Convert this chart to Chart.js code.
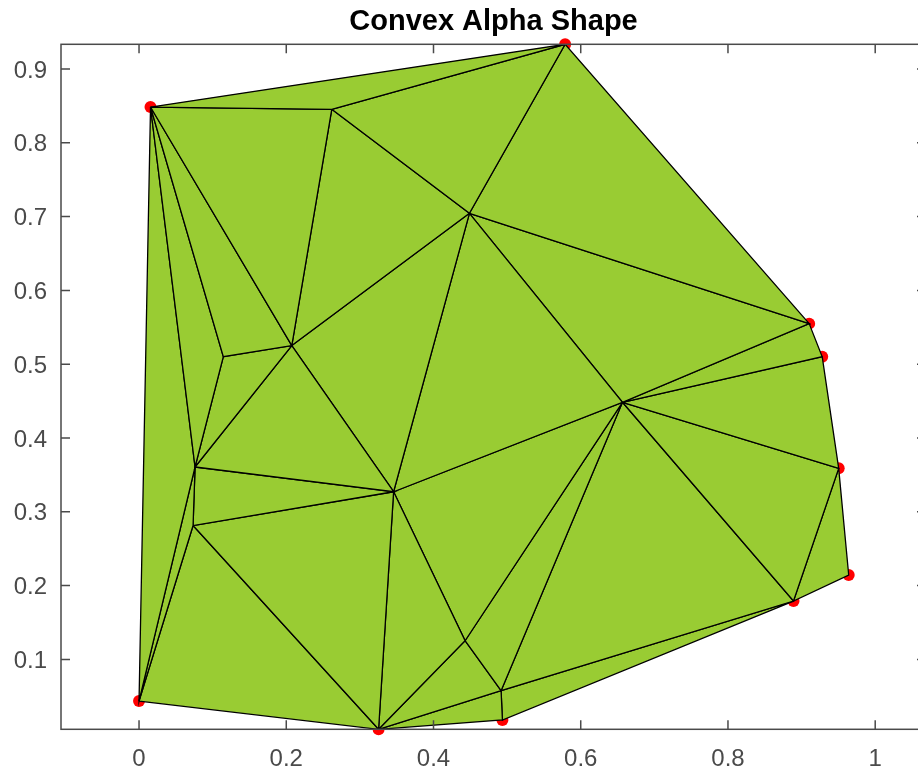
<!DOCTYPE html>
<html>
<head>
<meta charset="utf-8">
<script src="https://cdn.jsdelivr.net/npm/chart.js@4.4.1/dist/chart.umd.min.js"></script>
<style>
  html, body { margin: 0; padding: 0; background: #fff; overflow: hidden; }
  #shape_canvas { display: block; }
</style>
</head>
<body>
<canvas id="shape_canvas" width="940" height="774"></canvas>
<script>
// point coordinates
const ptX = [0.0156, 0.5788, 0.9103, 0.928, 0.9504, 0.964, 0.889, 0.4936, 0.3254, 0.0,
             0.2618, 0.4488, 0.2075, 0.1145, 0.0761, 0.0734, 0.3458, 0.6567, 0.4429, 0.4918];
const ptY = [0.8485, 0.9335, 0.555, 0.5102, 0.3589, 0.2144, 0.1791, 0.0179, 0.0053, 0.0436,
             0.8454, 0.7045, 0.5253, 0.5102, 0.3607, 0.2814, 0.3272, 0.4484, 0.1253, 0.0576];

// triangles of the alpha shape (indexes into ptX / ptY)
const tris = [
  [0, 1, 10], [10, 1, 11], [1, 2, 11], [0, 10, 12], [10, 11, 12], [0, 12, 13],
  [0, 13, 14], [13, 12, 14], [0, 14, 9], [9, 14, 15], [14, 12, 16], [12, 11, 16],
  [11, 17, 16], [11, 2, 17], [2, 3, 17], [3, 4, 17], [17, 4, 6], [4, 5, 6],
  [14, 16, 15], [15, 16, 8], [9, 15, 8], [16, 18, 8], [16, 17, 18], [18, 17, 19],
  [17, 6, 19], [18, 19, 8], [8, 19, 7], [19, 6, 7]
];

const xTicks = [0, 0.2, 0.4, 0.6, 0.8, 1];
const yTicks = [0.1, 0.2, 0.3, 0.4, 0.5, 0.6, 0.7, 0.8, 0.9];
const xLimits = [-0.106, 1.069];
const yLimits = [0.0053, 0.9335];

const tick_font = { family: "'Liberation Sans', Arial, Helvetica, sans-serif", size: 24 };
const axis_color = "#4a4a4a";

let datasets = [];

// one filled dataset per triangle, edges in black
for (const t of tris) {
  const idx = [t[0], t[1], t[2], t[0]];
  datasets.push({
    data: idx.map(i => ({ x: ptX[i], y: ptY[i] })),
    showLine: true,
    fill: "shape",
    backgroundColor: "#99cc33",
    borderColor: "#000000",
    borderWidth: 1.3,
    pointRadius: 0,
    tension: 0
  });
}

// red points, last so they are drawn first (under the shape)
datasets.push({
  data: ptX.map((x, i) => ({ x: x, y: ptY[i] })),
  showLine: false,
  pointRadius: 6,
  pointBorderWidth: 0,
  pointBackgroundColor: "#ff0000",
  clip: false
});

// box around the axes with ticks pointing inward
const axes_box = {
  id: "axes_box",
  afterDatasetsDraw(chart) {
    const { ctx, chartArea: a, scales } = chart;
    const len = 9;
    ctx.save();
    ctx.strokeStyle = axis_color;
    ctx.lineWidth = 1.5;
    ctx.strokeRect(a.left, a.top, a.right - a.left, a.bottom - a.top);
    ctx.beginPath();
    for (const v of xTicks) {
      const px = scales.x.getPixelForValue(v);
      ctx.moveTo(px, a.bottom); ctx.lineTo(px, a.bottom - len);
      ctx.moveTo(px, a.top); ctx.lineTo(px, a.top + len);
    }
    for (const v of yTicks) {
      const py = scales.y.getPixelForValue(v);
      ctx.moveTo(a.left, py); ctx.lineTo(a.left + len, py);
      ctx.moveTo(a.right, py); ctx.lineTo(a.right - len, py);
    }
    ctx.stroke();
    ctx.restore();
  }
};

new Chart(document.getElementById("shape_canvas"), {
  type: "scatter",
  data: { datasets: datasets },
  options: {
    responsive: false,
    devicePixelRatio: 1,
    animation: false,
    layout: { padding: { left: 0, right: 14, top: 0, bottom: 0 } },
    plugins: {
      legend: { display: false },
      tooltip: { enabled: false },
      title: {
        display: true,
        fullSize: false,
        text: "Convex Alpha Shape",
        color: "#000000",
        font: { family: "'Liberation Sans', Arial, Helvetica, sans-serif", size: 29, weight: "bold", lineHeight: 1.2 },
        padding: { top: 4.5, bottom: 5 }
      }
    },
    scales: {
      x: {
        type: "linear",
        min: xLimits[0],
        max: xLimits[1],
        grid: { display: false, drawTicks: false },
        border: { display: false },
        ticks: { font: tick_font, color: axis_color, padding: 16, maxRotation: 0, autoSkip: false,
                 callback: v => String(v) },
        afterBuildTicks: s => { s.ticks = xTicks.map(v => ({ value: v })); },
        afterFit: s => { s.height = 44.7; }
      },
      y: {
        type: "linear",
        min: yLimits[0],
        max: yLimits[1],
        grid: { display: false, drawTicks: false },
        border: { display: false },
        ticks: { font: tick_font, color: axis_color, padding: 14, labelOffset: 2, autoSkip: false,
                 callback: v => String(v) },
        afterBuildTicks: s => { s.ticks = yTicks.map(v => ({ value: v })); },
        afterFit: s => { s.width = 61; }
      }
    }
  },
  plugins: [axes_box]
});
</script>
</body>
</html>
